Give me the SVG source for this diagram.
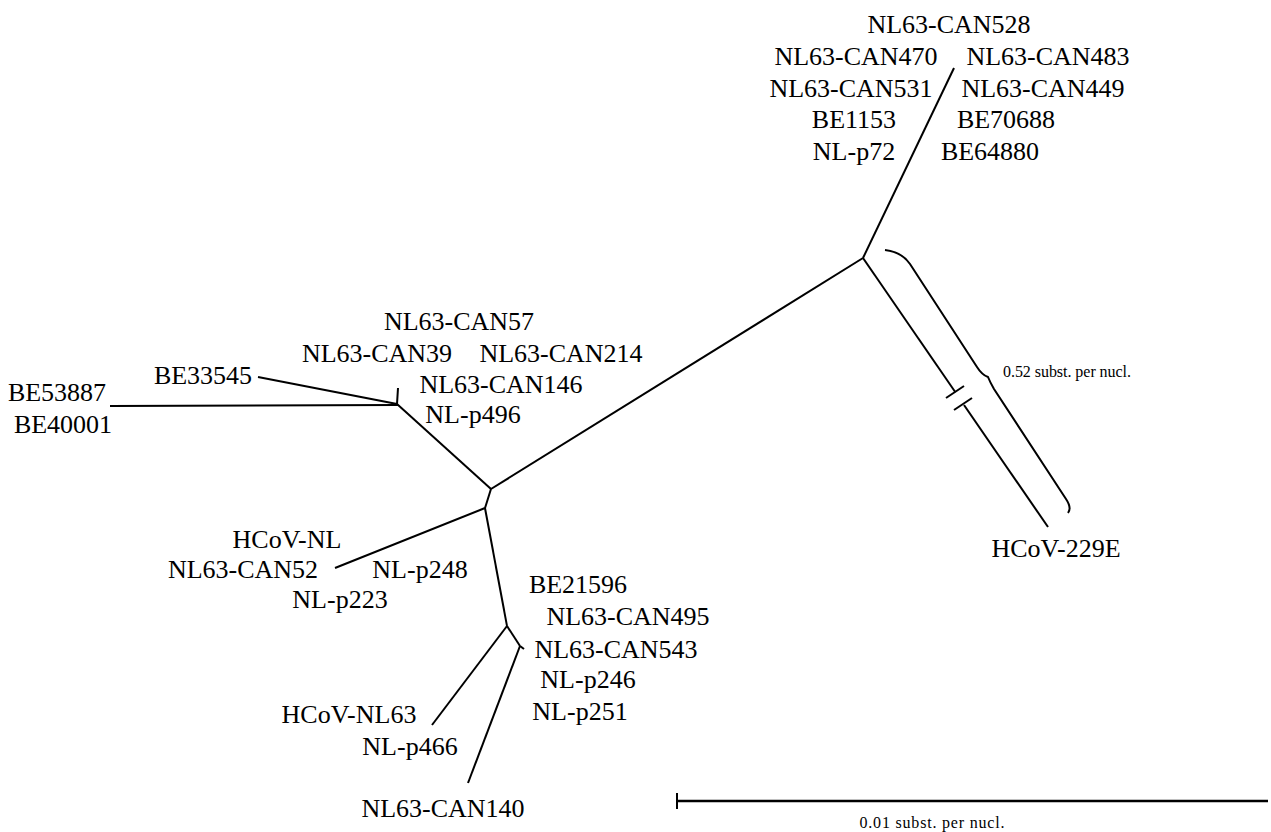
<svg xmlns="http://www.w3.org/2000/svg" width="1271" height="832" viewBox="0 0 1271 832">
<style>
text{font-family:"Liberation Serif","Times New Roman",serif;font-size:26px;fill:#000;text-anchor:middle}
.small{font-size:16px}
.br{fill:none;stroke:#000;stroke-width:2;stroke-linecap:butt;stroke-linejoin:miter}
</style>
<rect width="1271" height="832" fill="#fff"/>
<g id="connectors" class="br">
<line x1="491" y1="489" x2="863" y2="258"/>
<line x1="863" y1="258" x2="954" y2="68"/>
<line x1="863" y1="258" x2="955.4" y2="392.3"/>
<line x1="964" y1="405" x2="1048" y2="527"/>
<line x1="946" y1="398" x2="964" y2="386"/>
<line x1="954" y1="410" x2="972" y2="398"/>
<path d="M885,250 Q902,252 910,264 L977,367 Q982,375 988,377 Q990,382 994,389 L1066,499 Q1072,508 1068,513"/>
<line x1="491" y1="489" x2="397" y2="404"/>
<line x1="397" y1="404" x2="258" y2="377"/>
<line x1="397" y1="404" x2="398" y2="388"/>
<line x1="398" y1="405" x2="110" y2="406"/>
<line x1="491" y1="489" x2="485" y2="508"/>
<line x1="485" y1="508" x2="335" y2="568"/>
<line x1="485" y1="508" x2="507" y2="626"/>
<line x1="507" y1="626" x2="432" y2="725"/>
<line x1="507" y1="626" x2="520" y2="646"/>
<line x1="520" y1="646" x2="524" y2="649"/>
<line x1="520" y1="646" x2="468" y2="783"/>
<line x1="677" y1="801" x2="1268" y2="801" stroke-width="2.5"/>
<line x1="677" y1="793" x2="677" y2="809"/>
</g>
<g id="cluster-top">
<text x="949" y="33">NL63-CAN528</text>
<text x="856" y="65">NL63-CAN470</text>
<text x="1048" y="65">NL63-CAN483</text>
<text x="851" y="97">NL63-CAN531</text>
<text x="1043" y="97">NL63-CAN449</text>
<text x="854" y="128">BE1153</text>
<text x="1006" y="128">BE70688</text>
<text x="854" y="160">NL-p72</text>
<text x="990" y="160">BE64880</text>
</g>
<g id="hcov-229e">
<text x="1056" y="557">HCoV-229E</text>
</g>
<g id="long-branch-label">
<text class="small" x="1067" y="377" textLength="128">0.52 subst. per nucl.</text>
</g>
<g id="cluster-left">
<text x="459" y="330">NL63-CAN57</text>
<text x="377" y="362">NL63-CAN39</text>
<text x="561" y="362">NL63-CAN214</text>
<text x="501" y="393">NL63-CAN146</text>
<text x="473" y="423">NL-p496</text>
</g>
<g id="be33545"><text x="203" y="384">BE33545</text></g>
<g id="be53887"><text x="57" y="401">BE53887</text><text x="63" y="433">BE40001</text></g>
<g id="cluster-hcov-nl">
<text x="287" y="548">HCoV-NL</text>
<text x="243" y="578">NL63-CAN52</text>
<text x="420" y="578">NL-p248</text>
<text x="340" y="608">NL-p223</text>
</g>
<g id="cluster-be21596">
<text x="578" y="593">BE21596</text>
<text x="628" y="625">NL63-CAN495</text>
<text x="616" y="658">NL63-CAN543</text>
<text x="588" y="688">NL-p246</text>
<text x="580" y="720">NL-p251</text>
</g>
<g id="cluster-hcov-nl63">
<text x="349" y="723">HCoV-NL63</text>
<text x="410" y="755">NL-p466</text>
</g>
<g id="nl63-can140"><text x="443" y="817">NL63-CAN140</text></g>
<g id="scale-bar-label"><text class="small" x="932" y="828" font-size="17" textLength="145">0.01 subst. per nucl.</text></g>
</svg>
